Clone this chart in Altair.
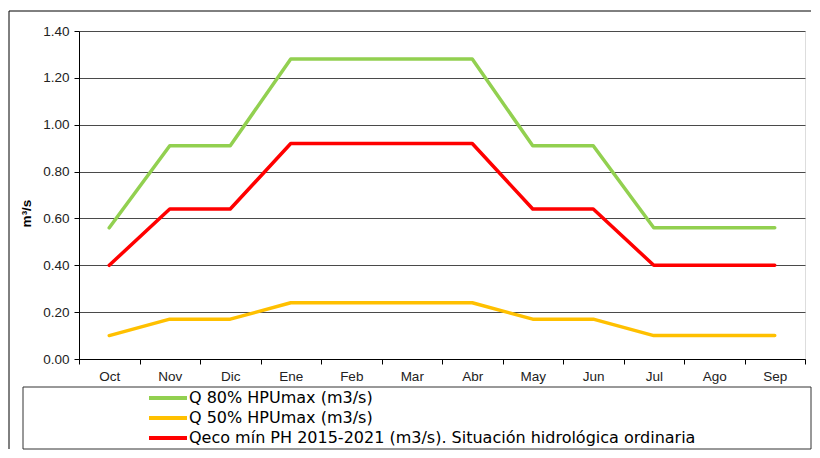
import altair as alt
import pandas as pd

months = ["Oct", "Nov", "Dic", "Ene", "Feb", "Mar", "Abr", "May", "Jun", "Jul", "Ago", "Sep"]
q80 = [0.56, 0.91, 0.91, 1.28, 1.28, 1.28, 1.28, 0.91, 0.91, 0.56, 0.56, 0.56]
q50 = [0.10, 0.17, 0.17, 0.24, 0.24, 0.24, 0.24, 0.17, 0.17, 0.10, 0.10, 0.10]
qeco = [0.40, 0.64, 0.64, 0.92, 0.92, 0.92, 0.92, 0.64, 0.64, 0.40, 0.40, 0.40]
series_names = [
    "Q 80% HPUmax (m3/s)",
    "Q 50% HPUmax (m3/s)",
    "Qeco mín PH 2015-2021 (m3/s). Situación hidrológica ordinaria",
]
series_colors = ["#92D050", "#FFC000", "#FF0000"]
y_ticks = [0.0, 0.2, 0.4, 0.6, 0.8, 1.0, 1.2, 1.4]

rows = []
for name, vals in zip(series_names, [q80, q50, qeco]):
    for m, v in zip(months, vals):
        rows.append({"month": m, "value": v, "series": name})
df = pd.DataFrame(rows)

FONT = "Liberation Sans"
LEG_FONT = "DejaVu Sans"
W, H = 726, 328
color_scale = alt.Scale(domain=series_names, range=series_colors)

lines = alt.Chart(df).mark_line(strokeWidth=3.5, strokeCap="round", strokeJoin="round").encode(
    x=alt.X(
        "month:O",
        sort=months,
        scale=alt.Scale(type="band", domain=months, paddingInner=0, paddingOuter=0),
        bandPosition=0.5,
        axis=alt.Axis(
            title=None,
            labelAngle=0,
            tickBand="extent",
            ticks=True,
            tickSize=5,
            tickColor="#000000",
            domainColor="#000000",
            labelFont=FONT,
            labelFontSize=13.5,
            labelColor="#222222",
            labelPadding=5,
            grid=False,
        ),
    ),
    y=alt.Y(
        "value:Q",
        scale=alt.Scale(domain=[0, 1.4], nice=False),
        axis=alt.Axis(
            title="m³/s",
            titleFont=FONT,
            titleFontSize=13.5,
            titleFontWeight="bold",
            titleColor="#000000",
            titleX=-46,
            titleY=182,
            titleAngle=270,
            titleAlign="center",
            titleBaseline="bottom",
            values=y_ticks,
            format=".2f",
            labelFont=FONT,
            labelFontSize=13.5,
            labelColor="#222222",
            labelPadding=5,
            tickSize=5,
            tickColor="#000000",
            domainColor="#000000",
            grid=True,
            gridColor="#4a4a4a",
            gridWidth=1,
        ),
    ),
    color=alt.Color("series:N", scale=color_scale, legend=None),
    detail="series:N",
)

one = pd.DataFrame({"k": [0]})

# legend frame and outer chart frame (decoration)
legend_box = alt.Chart(one).mark_rect(fill="white", stroke="#333333", strokeWidth=1).encode(
    x=alt.value(-56), x2=alt.value(732), y=alt.value(356), y2=alt.value(418)
)
outer_top = alt.Chart(one).mark_rule(color="#000000", strokeWidth=1).encode(
    x=alt.value(-70), x2=alt.value(732), y=alt.value(-20)
)
outer_left = alt.Chart(one).mark_rule(color="#000000", strokeWidth=1).encode(
    x=alt.value(-70), y=alt.value(-20), y2=alt.value(418)
)

leg_df = pd.DataFrame({"series": series_names})
leg_y = alt.Y("series:N", sort=series_names,
              scale=alt.Scale(type="point", domain=series_names, range=[367, 407], padding=0),
              axis=None)
leg_rule = alt.Chart(leg_df).mark_rule(strokeWidth=4).encode(
    y=leg_y,
    x=alt.value(70), x2=alt.value(108),
    color=alt.Color("series:N", scale=color_scale, legend=None),
)
leg_text = alt.Chart(leg_df).mark_text(align="left", baseline="middle", font=LEG_FONT, fontSize=16, color="#000000").encode(
    y=leg_y,
    x=alt.value(110),
    text="series:N",
)

chart = alt.layer(
    outer_top, outer_left, legend_box, lines, leg_rule, leg_text
).resolve_scale(y="independent").resolve_axis(y="independent").properties(
    width=W,
    height=H,
    padding={"left": 0, "top": 2, "right": 0, "bottom": 0},
).configure_view(stroke="#8c8c8c", strokeWidth=1.5).configure(background="#ffffff")

chart.save("out.html", embed_options={"renderer": "svg", "actions": False})
